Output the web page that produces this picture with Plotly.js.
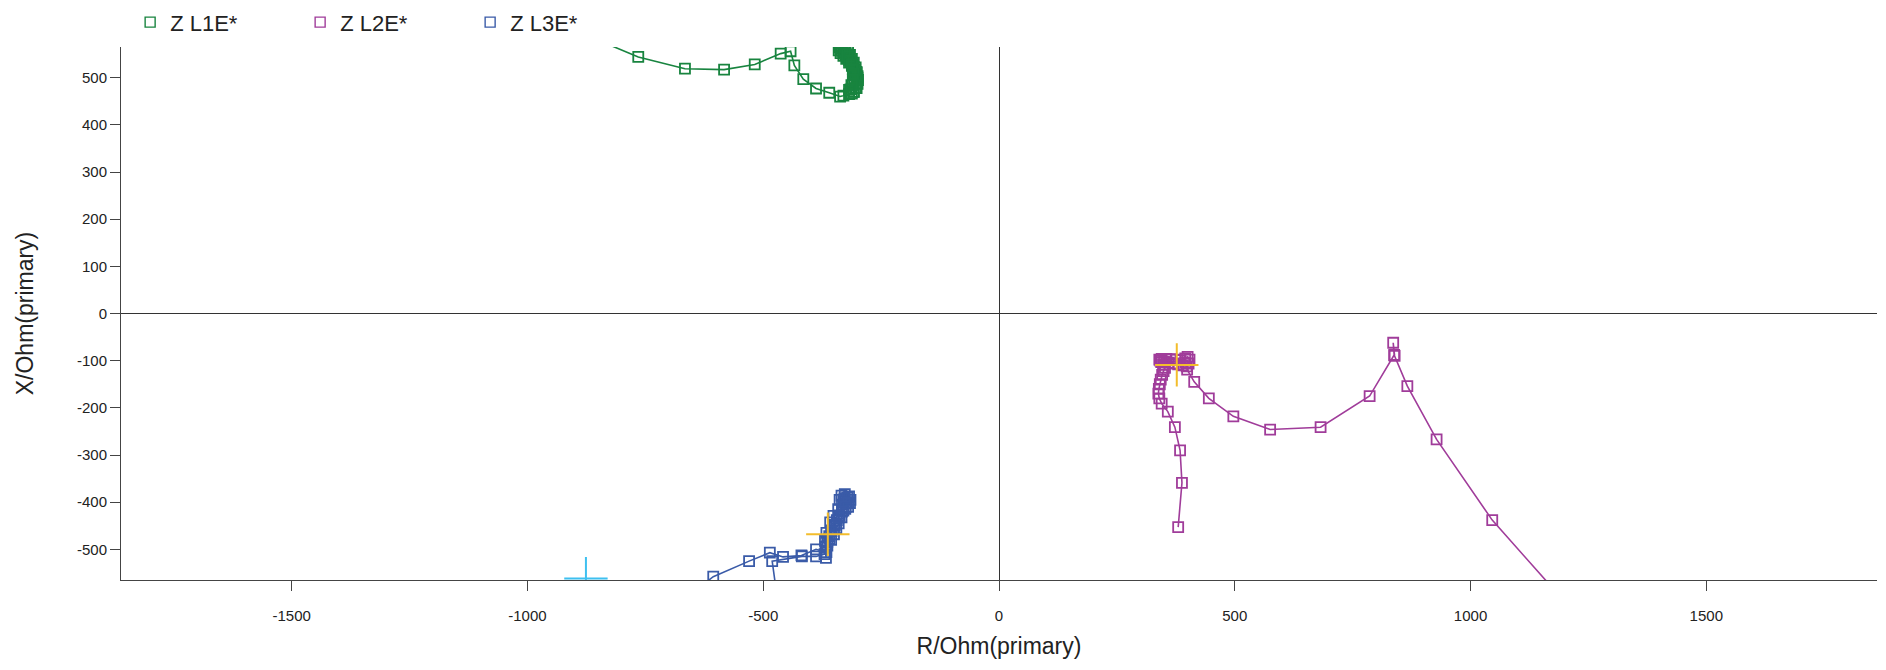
<!DOCTYPE html>
<html>
<head>
<meta charset="utf-8">
<script src="https://cdn.plot.ly/plotly-3.0.1.min.js"></script>
<style>
html,body{margin:0;padding:0;background:#fff;}
#chart{width:1886px;height:670px;}
</style>
</head>
<body>
<div id="chart"></div>
<script>
// Series names
const seriesNames = ["Z L1E*", "Z L2E*", "Z L3E*"];

// Z L1E* (R, X in Ohm primary)
const l1R = [-900, -765, -666, -583, -518, -463, -442, -434, -415, -388, -360, -337,
  -318, -308, -302, -300, -299, -300, -302, -305, -308, -311, -314, -318, -322, -326, -330, -334, -336, -333,
  -326, -320, -316, -312, -308, -304, -302, -300, -301, -304, -308, -312,
  -330, -315, -310, -306, -305, -307, -312, -318, -324, -330, -336, -340, -338,
  -328, -322, -318, -314, -312, -310, -309, -310, -313, -318];
const l1X = [600, 544, 519, 517, 528, 551, 556, 526, 497, 477, 468, 460,
  465, 470, 478, 487, 495, 503, 510, 517, 523, 528, 533, 538, 543, 548, 552, 557, 562, 567,
  560, 555, 548, 540, 532, 522, 512, 500, 488, 478, 470, 466,
  462, 475, 485, 495, 505, 515, 525, 532, 540, 546, 552, 558, 564,
  556, 550, 544, 536, 528, 518, 508, 496, 484, 474];

// Z L2E*
const l2R = [380, 388, 384, 373, 358, 345, 340, 338, 339, 341, 343, 346, 349, 352, 348, 344, 340,
  345, 355, 365, 375, 385, 395, 400, 404, 402, 398, 390, 380, 370, 360, 350, 342, 395,
  399, 414, 445, 497, 575, 682, 786, 838, 836, 839, 866, 928, 1046, 1270];
const l2X = [-453, -359, -290, -241, -208, -191, -180, -170, -160, -150, -140, -130, -122, -115, -108, -103, -98,
  -96, -96, -97, -98, -99, -95, -92, -98, -106, -112, -110, -108, -106, -104, -102, -100, -104,
  -119, -145, -180, -218, -246, -241, -175, -88, -62, -90, -154, -267, -438, -690];

// Z L3E*
const l3R = [-660, -606, -530, -486, -458, -419, -388, -366, -367, -369, -366, -358, -351, -341, -330, -327,
  -318, -315, -316, -320, -326, -333, -338, -334, -328, -324, -330, -338, -344, -350, -356, -360, -364, -368,
  -356, -350, -345, -340, -334,
  -322, -320, -325, -333, -340, -348, -355, -360, -364, -370, -388, -418, -481, -468];
const l3X = [-600, -558, -525, -507, -516, -513, -500, -506, -518, -482, -465, -443, -429, -415, -398, -383,
  -388, -395, -402, -410, -414, -405, -395, -386, -392, -402, -418, -428, -438, -450, -460, -472, -484, -495,
  -480, -468, -455, -445, -432,
  -390, -400, -410, -420, -432, -448, -462, -478, -492, -510, -515, -515, -525, -620];

// Marker crosses (fault / setting markers)
const orangeR = [377, -363];
const orangeX = [-109, -468];
const cyanR = [-876];
const cyanX = [-562];

// Axis ticks
const xTicks = [-1500, -1000, -500, 0, 500, 1000, 1500];
const yTicks = [-500, -400, -300, -200, -100, 0, 100, 200, 300, 400, 500];

const colors = ["#18843f", "#a03c9a", "#3a5ba8"];

function series(R, X, color) {
  return {
    type: "scatter", mode: "lines+markers", showlegend: false, x: R, y: X,
    line: {color: color, width: 1.6},
    marker: {symbol: "square-open", size: 10, color: color, line: {color: color, width: 1.8}}
  };
}
function legendEntry(name, color) {
  return {
    type: "scatter", mode: "markers", name: name, x: [null], y: [null],
    marker: {symbol: "square-open", size: 10, color: color, line: {color: color, width: 1.4}}
  };
}

const data = [
  series(l1R, l1X, colors[0]),
  series(l2R, l2X, colors[1]),
  series(l3R, l3X, colors[2]),
  {type: "scatter", mode: "markers", x: orangeR, y: orangeX, showlegend: false, hoverinfo: "skip",
   marker: {symbol: "cross-thin", size: 31, color: "#f3bd2c", line: {color: "#f3bd2c", width: 2}}},
  {type: "scatter", mode: "markers", x: cyanR, y: cyanX, showlegend: false, hoverinfo: "skip",
   marker: {symbol: "cross-thin", size: 31, color: "#3ec0f0", line: {color: "#3ec0f0", width: 2}}},
  legendEntry(seriesNames[0], colors[0]),
  legendEntry(seriesNames[1], colors[1]),
  legendEntry(seriesNames[2], colors[2])
];

const fontFam = "Liberation Sans, Arial, sans-serif";
const layout = {
  width: 1886, height: 670,
  margin: {l: 121, r: 9, t: 47, b: 90},
  paper_bgcolor: "#ffffff", plot_bgcolor: "#ffffff",
  font: {family: fontFam, color: "#222"},
  showlegend: true,
  legend: {orientation: "h", xref: "container", yref: "container", x: 0.069, y: 0.998,
    xanchor: "left", yanchor: "top", entrywidth: 125, font: {size: 22, family: fontFam, color: "#222"},
    bgcolor: "rgba(0,0,0,0)"},
  xaxis: {
    range: [-1862, 1862], tickvals: xTicks, ticktext: xTicks.map(String),
    showgrid: false, zeroline: true, zerolinecolor: "#333", zerolinewidth: 1,
    showline: true, linecolor: "#444", linewidth: 1,
    ticks: "outside", ticklen: 10, tickcolor: "#444", tickwidth: 1,
    ticklabelstandoff: 12,
    tickfont: {size: 15, family: fontFam, color: "#222"},
    title: {text: "R/Ohm(primary)", font: {size: 23, family: fontFam, color: "#222"}, standoff: 14},
    automargin: false, fixedrange: true
  },
  yaxis: {
    range: [-565, 565], tickvals: yTicks, ticktext: yTicks.map(String),
    showgrid: false, zeroline: true, zerolinecolor: "#333", zerolinewidth: 1,
    showline: true, linecolor: "#444", linewidth: 1,
    ticks: "outside", ticklen: 10, tickcolor: "#444", tickwidth: 1,
    tickfont: {size: 15, family: fontFam, color: "#222"},
    title: {text: "X/Ohm(primary)", font: {size: 23, family: fontFam, color: "#222"}, standoff: 36},
    automargin: false, fixedrange: true
  }
};

Plotly.newPlot("chart", data, layout, {displayModeBar: false, staticPlot: true});
</script>
</body>
</html>
